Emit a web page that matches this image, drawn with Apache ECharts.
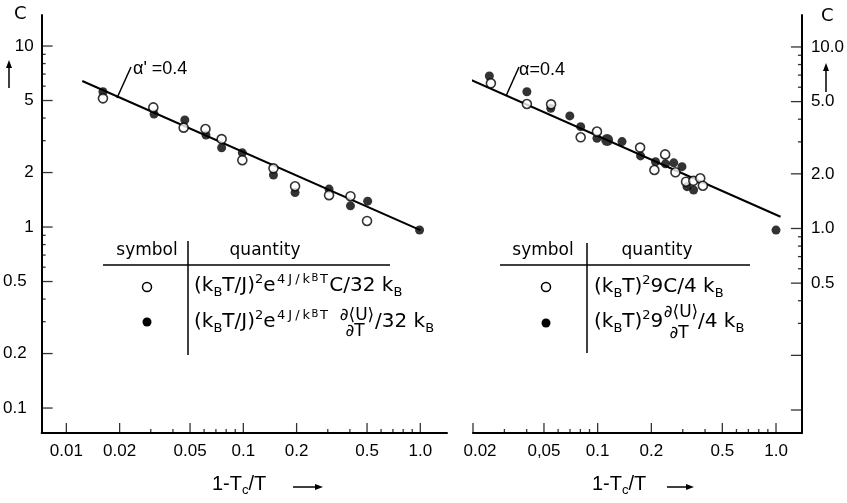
<!DOCTYPE html>
<html>
<head>
<meta charset="utf-8">
<script src="https://cdn.jsdelivr.net/npm/echarts@6/dist/echarts.min.js"></script>
<style>
  html, body { margin: 0; padding: 0; background: #fff; }
  #chart { width: 847px; height: 503px; }
</style>
</head>
<body>
<div id="chart"></div>
<script>
// Specific heat C against the reduced temperature 1 - Tc/T, two log-log panels.

// ---- left panel ----
const leftFilledT = [0.0161, 0.0313, 0.0467, 0.0615, 0.0754, 0.0987, 0.148, 0.196, 0.305, 0.403, 0.504, 0.99];
const leftFilledC = [5.59, 4.21, 3.90, 3.22, 2.74, 2.57, 1.94, 1.55, 1.62, 1.31, 1.39, 0.963];
const leftOpenT = [0.0161, 0.0310, 0.0460, 0.0611, 0.0754, 0.0987, 0.148, 0.196, 0.305, 0.403, 0.500];
const leftOpenC = [5.14, 4.58, 3.54, 3.48, 3.06, 2.34, 2.11, 1.68, 1.50, 1.48, 1.08];
const leftFitT = [0.0123, 1.0];
const leftFitC = [6.41, 0.962];

// ---- right panel ----
const rightFilledT = [0.0247, 0.0401, 0.0546, 0.0698, 0.0803, 0.0991, 0.137, 0.174, 0.211, 0.240, 0.267, 0.297, 0.317, 0.345, 1.0];
const rightFilledC = [6.92, 5.67, 4.59, 4.17, 3.64, 3.14, 3.01, 2.51, 2.33, 2.27, 2.30, 2.19, 1.70, 1.63, 0.98];
const rightBigT = [0.113];
const rightBigC = [3.07];
const rightOpenT = [0.0252, 0.0401, 0.0548, 0.0803, 0.0991, 0.173, 0.208, 0.239, 0.273, 0.313, 0.344, 0.376, 0.389];
const rightOpenC = [6.31, 4.85, 4.83, 3.18, 3.42, 2.79, 2.10, 2.56, 2.04, 1.81, 1.83, 1.89, 1.72];
const rightFitT = [0.0169, 1.06];
const rightFitC = [7.01, 1.16];

// ---- axis ranges ----
const leftXRange = [0.00725, 1.415];
const leftYRange = [0.0728, 14.84];
const rightXRange = [0.02, 1.397];
const rightYRange = [0.0747, 15.0];

// ---- ticks and tick labels ----
const leftXMajor = [0.01, 0.02, 0.05, 0.1, 0.2, 0.5, 1.0];
const leftXLabels = ['0.01', '0.02', '0.05', '0.1', '0.2', '0.5', '1.0'];
const rightXMajor = [0.02, 0.05, 0.1, 0.2, 0.5, 1.0];
const rightXLabels = ['0.02', '0,05', '0.1', '0.2', '0.5', '1.0'];
const xMinor = [0.03, 0.04, 0.06, 0.07, 0.08, 0.09, 0.3, 0.4, 0.6, 0.7, 0.8, 0.9];
const yMajor = [0.1, 0.2, 0.5, 1, 2, 5, 10];
const leftYLabels = ['0.1', '0.2', '0.5', '1', '2', '5', '10'];
const rightYLabelValues = [0.5, 1, 2, 5, 10];
const rightYLabels = ['0.5', '1.0', '2.0', '5.0', '10.0'];
const yMinor = [0.3, 0.4, 0.6, 0.7, 0.8, 0.9, 3, 4, 6, 7, 8, 9];

const TICK_FONT = 'Liberation Sans';
const TEXT_FONT = 'DejaVu Sans';
const INK = '#000';

const pairs = (xs, ys) => xs.map((x, i) => [x, ys[i]]);
const lookup = (values, labels) => v => {
  for (let i = 0; i < values.length; i++) {
    if (Math.abs(Math.log10(v) - Math.log10(values[i])) < 1e-6) return labels[i];
  }
  return '';
};

function axis(grid, position, range, labelValues, fmt, margin, extra) {
  return Object.assign({
    gridIndex: grid, type: 'log', logBase: 10, position, min: range[0], max: range[1],
    axisLine: { show: true, lineStyle: { color: INK, width: 2 } },
    axisTick: { show: false },
    axisLabel: {
      show: true, customValues: labelValues, formatter: fmt, margin,
      fontFamily: TICK_FONT, fontSize: 17, color: INK
    },
    minorTick: { show: false }, splitLine: { show: false }
  }, extra || {});
}
// a label-only companion axis sharing the grid and scale of its panel
function labelAxis(grid, position, range, labelValues, fmt, margin, padding) {
  const a = axis(grid, position, range, labelValues, fmt, margin, { axisLine: { show: false } });
  if (padding) a.axisLabel.padding = padding;
  return a;
}

const leftXFmt = lookup(leftXMajor, leftXLabels);
const rightXFmt = lookup(rightXMajor, rightXLabels);
const leftYFmt = lookup(yMajor, leftYLabels);
const rightYFmt = lookup(rightYLabelValues, rightYLabels);

const xAxis = [
  axis(0, 'bottom', leftXRange, leftXMajor, leftXFmt, 10),
  axis(1, 'bottom', rightXRange, rightXMajor.slice(1), rightXFmt, 10),
  labelAxis(1, 'bottom', rightXRange, rightXMajor.slice(0, 1), rightXFmt, 10, [0, 0, 0, 14])
];
const yAxis = [
  axis(0, 'left', leftYRange, yMajor.filter(v => v >= 1), leftYFmt, 8),
  axis(1, 'right', rightYRange, rightYLabelValues, rightYFmt, 9),
  labelAxis(0, 'left', leftYRange, yMajor.filter(v => v < 1), leftYFmt, 15)
];

const within = (vals, range) => vals.filter(v => v >= range[0] && v <= range[1]);

// tick marks drawn inward from an axis line, placed through the axis scales
function tickMarks(idx, values, fixed, dir, len) {
  const vertical = dir === 'up';
  const data = vertical ? values.map(v => [v, fixed]) : values.map(v => [fixed, v]);
  const size = vertical ? [1.3, len] : [len, 1.3];
  const offset = dir === 'up' ? [0, -len / 2] : dir === 'right' ? [len / 2, 0] : [-len / 2, 0];
  return { type: 'scatter', xAxisIndex: idx, yAxisIndex: idx, data, symbol: 'rect',
    symbolSize: size, symbolOffset: offset, itemStyle: { color: INK }, clip: false, silent: true, z: 1 };
}

function fitLine(idx, xs, ys) {
  return { type: 'line', xAxisIndex: idx, yAxisIndex: idx, data: pairs(xs, ys), symbol: 'none',
    lineStyle: { color: INK, width: 2 }, clip: false, silent: true, z: 2 };
}
function dots(idx, xs, ys, filled, size) {
  return { type: 'scatter', xAxisIndex: idx, yAxisIndex: idx, data: pairs(xs, ys), symbol: 'circle',
    symbolSize: size,
    itemStyle: filled ? { color: INK } : { color: '#fff', borderColor: INK, borderWidth: 1.6 },
    silent: true, z: filled ? 3 : 4 };
}

const series = [
  tickMarks(0, within(leftXMajor, leftXRange), leftYRange[0], 'up', 10),
  tickMarks(0, within(xMinor, leftXRange), leftYRange[0], 'up', 4),
  tickMarks(0, within(yMajor, leftYRange), leftXRange[0], 'right', 11),
  tickMarks(0, within(yMinor, leftYRange), leftXRange[0], 'right', 4),
  tickMarks(1, within(rightXMajor, rightXRange), rightYRange[0], 'up', 10),
  tickMarks(1, within(xMinor, rightXRange), rightYRange[0], 'up', 4),
  tickMarks(1, within(yMajor, rightYRange), rightXRange[1], 'left', 11),
  tickMarks(1, within(yMinor, rightYRange), rightXRange[1], 'left', 4),

  fitLine(0, leftFitT, leftFitC),
  dots(0, leftFilledT, leftFilledC, true, 9),
  dots(0, leftOpenT, leftOpenC, false, 9),
  fitLine(1, rightFitT, rightFitC),
  dots(1, rightFilledT, rightFilledC, true, 9),
  dots(1, rightBigT, rightBigC, true, 12),
  dots(1, rightOpenT, rightOpenC, false, 9)
];

// ---- annotation helpers ----
function text(x, y, str, opts) {
  return { type: 'text', x, y, silent: true, style: Object.assign({
    text: str, fontFamily: TEXT_FONT, fontSize: 17, fill: INK, textAlign: 'left', textVerticalAlign: 'middle'
  }, opts || {}) };
}
function seg(x1, y1, x2, y2, w) {
  return { type: 'line', silent: true, shape: { x1, y1, x2, y2 }, style: { stroke: INK, lineWidth: w || 1.5 } };
}
function marker(cx, cy, filled) {
  return { type: 'circle', silent: true, shape: { cx, cy, r: 4.5 },
    style: filled ? { fill: INK } : { fill: '#fff', stroke: INK, lineWidth: 1.5 } };
}
function arrowUp(x, yBottom, yTop) {
  return [seg(x, yBottom, x, yTop + 5, 1.5),
    { type: 'polygon', silent: true, shape: { points: [[x, yTop], [x - 3, yTop + 8], [x + 3, yTop + 8]] }, style: { fill: INK } }];
}
function arrowRight(xLeft, xRight, y) {
  return [seg(xLeft, y, xRight - 5, y, 1.5),
    { type: 'polygon', silent: true, shape: { points: [[xRight, y], [xRight - 8, y - 3], [xRight - 8, y + 3]] }, style: { fill: INK } }];
}

const formulaRich = {
  n: { fontFamily: TEXT_FONT, fontSize: 20, lineHeight: 26, verticalAlign: 'middle' },
  s: { fontFamily: TEXT_FONT, fontSize: 13, lineHeight: 13, verticalAlign: 'bottom' },
  p: { fontFamily: TEXT_FONT, fontSize: 13, lineHeight: 13, verticalAlign: 'top' },
  e: { fontFamily: TEXT_FONT, fontSize: 13, lineHeight: 13, verticalAlign: 'top', padding: [0, 1.5, 0, 1.5] },
  q: { fontFamily: TEXT_FONT, fontSize: 10, lineHeight: 19, verticalAlign: 'top' }
};
function formula(x, y, markup) {
  return text(x, y, markup, { rich: formulaRich, fontSize: 20, lineHeight: 26 });
}
const exponent = '{e|4}{e|J}{e|/}{e|k}{q|B}{e|T}';
const xTitleRich = {
  n: { fontFamily: TICK_FONT, fontSize: 20, lineHeight: 26, verticalAlign: 'middle' },
  s: { fontFamily: TICK_FONT, fontSize: 13, lineHeight: 12, verticalAlign: 'bottom' }
};
const xTitle = '{n|1-T}{s|c}{n|/T}';

const graphic = [
  // y-axis titles
  text(14, 14, 'C', { fontSize: 18 }),
  ...arrowUp(9, 88, 60),
  text(821, 16, 'C', { fontSize: 18 }),
  ...arrowUp(826, 92, 63),
  // x-axis titles
  text(212, 484, xTitle, { rich: xTitleRich, lineHeight: 26 }),
  ...arrowRight(293, 323, 487),
  text(592, 484, xTitle, { rich: xTitleRich, lineHeight: 26 }),
  ...arrowRight(667, 694, 487),
  // exponent labels on the fitted lines
  text(133, 69, "α' =0.4", { fontFamily: TICK_FONT, fontSize: 18 }),
  seg(131, 67, 117, 98, 1.5),
  text(519, 70, 'α=0.4', { fontFamily: TICK_FONT, fontSize: 18 }),
  seg(519, 67, 506, 96, 1.5),

  // left legend table
  text(147, 251, 'symbol', { textAlign: 'center' }),
  text(265, 251, 'quantity', { textAlign: 'center' }),
  seg(103, 265, 390, 265, 1.5),
  seg(188, 241, 188, 355, 1.5),
  marker(147, 287, false),
  marker(147, 322, true),
  formula(194, 286, '{n|(k}{s|B}{n|T/J)}{p|2}{n|e}' + exponent + '{n|C/32 k}{s|B}'),
  formula(194, 322, '{n|(k}{s|B}{n|T/J)}{p|2}{n|e}' + exponent),
  text(357, 316, '∂⟨U⟩', { textAlign: 'center', fontSize: 17 }),
  text(355, 332, '∂T', { textAlign: 'center', fontSize: 17 }),
  formula(375, 322, '{n|/32 k}{s|B}'),

  // right legend table
  text(543, 251, 'symbol', { textAlign: 'center' }),
  text(657, 251, 'quantity', { textAlign: 'center' }),
  seg(500, 265, 750, 265, 1.5),
  seg(587, 243, 587, 353, 1.5),
  marker(546, 287, false),
  marker(546, 323, true),
  formula(594, 287, '{n|(k}{s|B}{n|T)}{p|2}{n|9C/4 k}{s|B}'),
  formula(594, 322, '{n|(k}{s|B}{n|T)}{p|2}{n|9}'),
  text(681, 313, '∂⟨U⟩', { textAlign: 'center', fontSize: 17 }),
  text(679, 334, '∂T', { textAlign: 'center', fontSize: 17 }),
  formula(698, 322, '{n|/4 k}{s|B}')
];

const chart = echarts.init(document.getElementById('chart'), null, { renderer: 'canvas' });
chart.setOption({
  animation: false,
  backgroundColor: '#fff',
  grid: [
    { left: 37, top: 15, width: 410, height: 418, containLabel: false },
    { left: 473, top: 15, width: 330, height: 418, containLabel: false }
  ],
  xAxis,
  yAxis,
  series,
  graphic
});
</script>
</body>
</html>
